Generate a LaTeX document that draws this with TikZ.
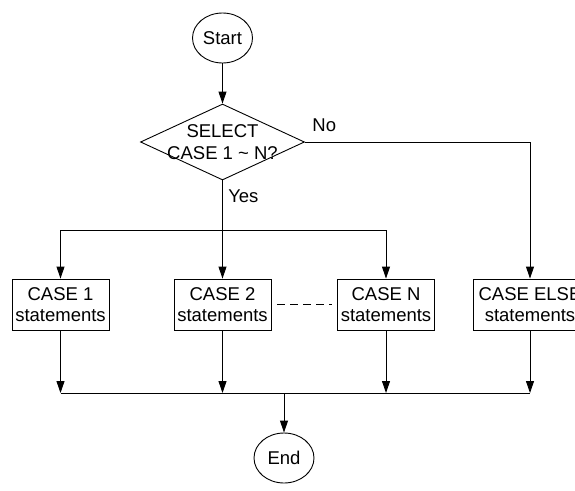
\documentclass[tikz,border=0pt]{standalone}
\usepackage{fontspec}
\setmainfont{Liberation Sans}
\usetikzlibrary{shapes.geometric, arrows.meta}

\begin{document}
\begin{tikzpicture}[
    x=1pt, y=-1pt,
    every node/.style = {align=center, font=\fontsize{18.5}{21.5}\selectfont},
    terminal/.style = {ellipse, draw, minimum width=60pt, minimum height=50pt, inner sep=0pt},
    decision/.style = {diamond, draw, minimum width=164pt, minimum height=76pt, inner sep=0pt},
    casebox/.style  = {rectangle, draw, minimum width=97pt, minimum height=51pt, inner sep=0pt},
    arrow/.style    = {-{Triangle[length=12pt, width=8pt]}},
    line width=0.9pt,
]
\useasboundingbox (0,0) rectangle (575,490);

% --- start and decision ---
\node[terminal] (start) at (222.5,38) {Start};
\node[decision] (sel)   at (222.5,142) {};
\node (seltxt) at (sel.center) {SELECT\\CASE 1 \textasciitilde{} N?};

% --- case boxes ---
\node[casebox] (c1)   at (60.5,304.5)  {CASE 1\\statements};
\node[casebox] (c2)   at (222.5,304.5) {CASE 2\\statements};
\node[casebox] (cn)   at (386,304.5)   {CASE N\\statements};
\node[casebox, minimum width=114pt] (cels) at (530,304.5) {CASE ELSE\\statements};

% --- end ---
\node[terminal] (stop) at (284,458) {End};

\coordinate (split) at (222.5,230);
\coordinate (join)  at (284,393);

% --- arrows ---
\draw[arrow] (start) -- (sel);
\draw[arrow] (sel.south) -- (c2.north)
    node[pos=0.16, right, xshift=2pt] {Yes};
\draw[arrow] (split) -| (c1.north);
\draw[arrow] (split) -| (cn.north);
\draw[arrow] (sel.east) -| (cels.north)
    node[pos=0, anchor=south west, inner sep=0pt, xshift=7pt, yshift=10pt] {No};
\draw[dash pattern=on 8pt off 5pt, shorten <=6pt, shorten >=5pt] (c2.east) -- (cn.west);

% --- merge ---
\foreach \c in {c1, c2, cn, cels}
    \draw[arrow] (\c.south) -- (\c.south |- join);
\draw (c1.south |- join) -- (cels.south |- join);
\draw[arrow] (join) -- (stop.north);

\end{tikzpicture}
\end{document}
